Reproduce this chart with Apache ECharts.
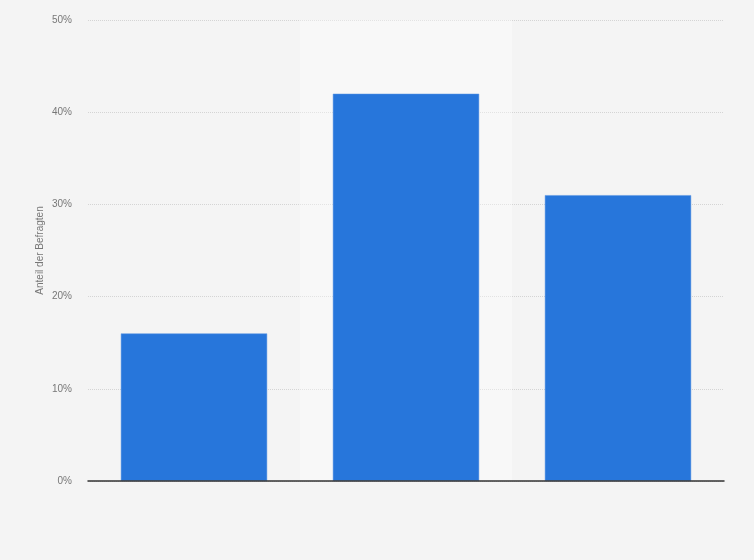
<!DOCTYPE html>
<html>
<head>
<meta charset="utf-8">
<script src="https://cdn.jsdelivr.net/npm/echarts@6/dist/echarts.min.js"></script>
<style>
  html, body { margin: 0; padding: 0; background: #f4f4f4; }
  #chart { width: 754px; height: 560px; }
</style>
</head>
<body>
<div id="chart"></div>
<script>
// categories have no visible labels in the picture
const categories = ['Gruppe 1', 'Gruppe 2', 'Gruppe 3'];
const shares = [16, 42, 31];
const yTicks = [0, 10, 20, 30, 40, 50];
// the middle column is shown highlighted
const highlightIndex = 1;

const yMax = yTicks[yTicks.length - 1];
const highlight = categories.map((c, i) => i === highlightIndex ? yMax : null);

const chart = echarts.init(document.getElementById('chart'));
chart.setOption({
  animation: false,
  backgroundColor: '#f4f4f4',
  grid: { left: 88, right: 30, top: 20, bottom: 79 },
  xAxis: [
    {
      type: 'category',
      data: categories,
      axisLine: { lineStyle: { color: '#333', width: 1.5 } },
      axisTick: { show: false },
      axisLabel: { show: false },
      z: 5
    },
    {
      type: 'category',
      data: categories,
      show: false
    }
  ],
  yAxis: {
    type: 'value',
    min: yTicks[0],
    max: yMax,
    interval: 10,
    name: 'Anteil der Befragten',
    nameLocation: 'middle',
    nameGap: 43,
    nameMoveOverlap: false,
    nameTextStyle: { color: '#777', fontSize: 10, fontFamily: 'Liberation Sans' },
    axisLine: { show: false },
    axisTick: { show: false },
    axisLabel: {
      color: '#777',
      fontSize: 10,
      fontFamily: 'Liberation Sans',
      margin: 16,
      formatter: v => v + '%'
    },
    splitLine: { lineStyle: { color: '#d4d4d4', type: [1, 1] } }
  },
  series: [
    {
      type: 'bar',
      xAxisIndex: 1,
      data: highlight,
      barCategoryGap: 0,
      itemStyle: { color: 'rgba(255,255,255,0.35)' },
      silent: true,
      z: 0
    },
    {
      type: 'bar',
      xAxisIndex: 0,
      data: shares,
      barCategoryGap: '31%',
      itemStyle: { color: '#2776db', borderColor: '#5a95e3', borderWidth: 0.5 },
      z: 3
    }
  ]
});
</script>
</body>
</html>
